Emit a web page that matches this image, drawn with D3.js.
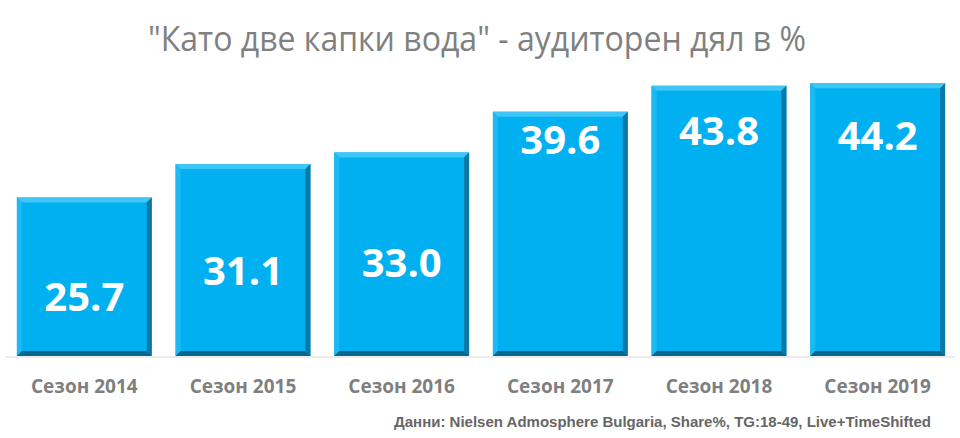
<!DOCTYPE html>
<html>
<head>
<meta charset="utf-8">
<script src="https://cdn.jsdelivr.net/npm/d3@7"></script>
<style>
  body { margin: 0; background: #fff; }
  svg { display: block; }
</style>
</head>
<body>
<svg id="chart"></svg>
<script>
const width = 960;
const height = 438;

const categories = ['Сезон 2014', 'Сезон 2015', 'Сезон 2016', 'Сезон 2017', 'Сезон 2018', 'Сезон 2019'];
const values = [25.7, 31.1, 33.0, 39.6, 43.8, 44.2];
// where each value label sits, in data units (labels were hand placed in the original)
const labelAt = [9.6, 13.9, 15.2, 35.0, 36.5, 35.7];

const title = '"Като две капки вода" - аудиторен дял в %';
const source = 'Данни: Nielsen Admosphere Bulgaria, Share%, TG:18-49, Live+TimeShifted';

const svg = d3.select('#chart')
    .attr('width', width)
    .attr('height', height);

const x = d3.scaleBand()
    .domain(categories)
    .range([5, 957])
    .paddingInner(0.15)
    .paddingOuter(0.075);

const y = d3.scaleLinear()
    .domain([0, 50])
    .range([356, 47.5]);

svg.append('text')
    .attr('x', 477)
    .attr('y', 51)
    .attr('text-anchor', 'middle')
    .attr('textLength', 658)
    .attr('lengthAdjust', 'spacingAndGlyphs')
    .style('font-family', 'Open Sans')
    .style('font-size', '34px')
    .style('fill', '#808080')
    .text(title);

// baseline
svg.append('line')
    .attr('x1', 5)
    .attr('x2', 955)
    .attr('y1', y(0) + 1)
    .attr('y2', y(0) + 1)
    .style('stroke', '#d9d9d9')
    .style('stroke-width', 1);

const bev = 5;
const bars = svg.append('g')
  .selectAll('g')
  .data(values)
  .join('g');

bars.each(function(v, i) {
  const g = d3.select(this);
  const x0 = x(categories[i]);
  const x1 = x0 + x.bandwidth();
  const y0 = y(v);
  const y1 = y(0);

  g.append('rect')
      .attr('x', x0)
      .attr('y', y0)
      .attr('width', x1 - x0)
      .attr('height', y1 - y0)
      .style('fill', '#00b0f0');

  const pts = (arr) => arr.map(p => p.join(',')).join(' ');

  // top
  g.append('polygon')
      .attr('points', pts([[x0, y0], [x1, y0], [x1 - bev, y0 + bev], [x0 + bev, y0 + bev]]))
      .style('fill', '#3fc6f5');
  // left
  g.append('polygon')
      .attr('points', pts([[x0, y0], [x0 + bev, y0 + bev], [x0 + bev, y1 - bev], [x0, y1]]))
      .style('fill', '#1cbaf3');
  // right
  g.append('polygon')
      .attr('points', pts([[x1, y0], [x1, y1], [x1 - bev, y1 - bev], [x1 - bev, y0 + bev]]))
      .style('fill', '#0879a6');
  // bottom
  g.append('polygon')
      .attr('points', pts([[x0, y1], [x1, y1], [x1 - bev, y1 - bev], [x0 + bev, y1 - bev]]))
      .style('fill', '#06668e');
});

svg.append('g')
  .selectAll('text')
  .data(values)
  .join('text')
    .attr('x', (d, i) => x(categories[i]) + x.bandwidth() / 2)
    .attr('y', (d, i) => y(labelAt[i]))
    .attr('dy', '0.36em')
    .attr('text-anchor', 'middle')
    .style('font-family', 'Open Sans')
    .style('font-weight', 'bold')
    .style('font-size', '40px')
    .style('fill', '#fff')
    .text(d => d.toFixed(1));

svg.append('g')
  .selectAll('text')
  .data(categories)
  .join('text')
    .attr('x', d => x(d) + x.bandwidth() / 2)
    .attr('y', 393)
    .attr('text-anchor', 'middle')
    .style('font-family', 'Open Sans')
    .style('font-weight', 'bold')
    .style('font-size', '19px')
    .style('fill', '#7f7f7f')
    .text(d => d);

svg.append('text')
    .attr('x', 931)
    .attr('y', 427)
    .attr('text-anchor', 'end')
    .style('font-family', 'Liberation Sans')
    .style('font-weight', 'bold')
    .style('font-size', '15px')
    .style('fill', '#666')
    .text(source);
</script>
</body>
</html>
